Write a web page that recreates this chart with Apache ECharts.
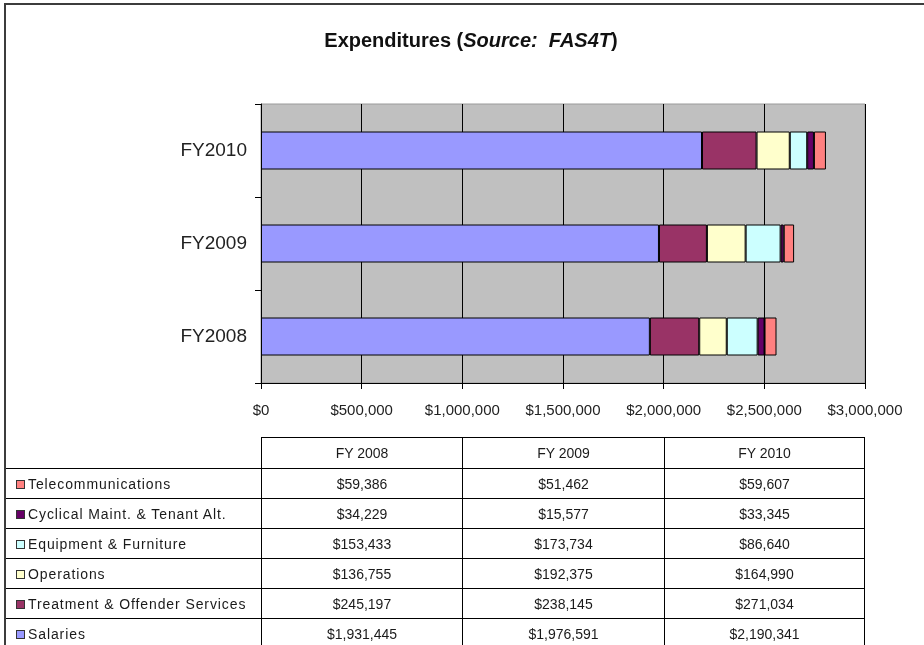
<!DOCTYPE html>
<html>
<head>
<meta charset="utf-8">
<script src="https://cdn.jsdelivr.net/npm/echarts@6/dist/echarts.min.js"></script>
<style>
  html, body { margin: 0; padding: 0; background: #fff; overflow: hidden; }
  #wrap { position: relative; width: 924px; height: 645px; overflow: hidden; }
  #chart { position: absolute; left: 0; top: 0; width: 924px; height: 645px; }
  #frame {
    position: absolute; left: 4px; top: 3px; width: 960px; height: 700px;
    border-top: 2px solid #3c3c3c; border-left: 2px solid #3c3c3c; pointer-events: none;
  }
  #dataTable {
    position: absolute; left: 5px; top: 437px;
    border-collapse: collapse; table-layout: fixed;
    font-family: 'Liberation Sans', Arial, sans-serif; font-size: 14px; color: #1a1a1a;
  }
  #dataTable td { border: 1px solid #000; padding: 0; text-align: center; white-space: nowrap; }
  #dataTable tr.head td { height: 30px; }
  #dataTable tr.body td { height: 29px; }
  #dataTable td.blank { border-top: none; border-left: none; }
  #dataTable td.name { text-align: left; padding-left: 10px; letter-spacing: 0.9px; }
  .key {
    display: inline-block; width: 7px; height: 7px; border: 1px solid #333;
    margin-right: 3px; vertical-align: 0px;
  }
</style>
</head>
<body>
<div id="wrap">
  <div id="chart"></div>
  <table id="dataTable"></table>
  <div id="frame"></div>
</div>
<script>
// categories (bottom to top on the chart)
const years = ['FY2008', 'FY2009', 'FY2010']
const tableYears = ['FY 2008', 'FY 2009', 'FY 2010']

// series values, stacked left to right
const salaries = [1931445, 1976591, 2190341]
const treatment = [245197, 238145, 271034]
const operations = [136755, 192375, 164990]
const equipment = [153433, 173734, 86640]
const cyclical = [34229, 15577, 33345]
const telecom = [59386, 51462, 59607]

const seriesNames = [
  'Salaries',
  'Treatment & Offender Services',
  'Operations',
  'Equipment & Furniture',
  'Cyclical Maint. & Tenant Alt.',
  'Telecommunications'
]
const seriesValues = [salaries, treatment, operations, equipment, cyclical, telecom]
const seriesColors = ['#9999ff', '#993366', '#ffffcc', '#ccffff', '#660066', '#ff8080']

const xTickStep = 500000
const xMax = 3000000

const money = v => '$' + v.toLocaleString('en-US')

const chart = echarts.init(document.getElementById('chart'))

chart.setOption({
  animation: false,
  textStyle: { fontFamily: "'Liberation Sans', Arial, sans-serif" },
  graphic: [{
    type: 'text',
    x: 471,
    y: 41,
    style: {
      text: '{b|Expenditures (}{i|Source:  FAS4T}{b|)}',
      align: 'center',
      verticalAlign: 'middle',
      rich: {
        b: { fontSize: 20, fontWeight: 'bold', fill: '#111', fontFamily: "'Liberation Sans', Arial, sans-serif" },
        i: { fontSize: 20, fontWeight: 'bold', fontStyle: 'italic', fill: '#111', fontFamily: "'Liberation Sans', Arial, sans-serif" }
      }
    }
  }],
  grid: {
    left: 261,
    right: 59,
    top: 104,
    bottom: 262,
    show: true,
    backgroundColor: '#c0c0c0',
    borderColor: '#9a9a9a',
    borderWidth: 1
  },
  xAxis: {
    type: 'value',
    min: 0,
    max: xMax,
    interval: xTickStep,
    axisLine: { show: true, lineStyle: { color: '#000', width: 1 } },
    axisTick: { show: true, length: 6, lineStyle: { color: '#000' } },
    axisLabel: { color: '#222', fontSize: 15, margin: 20, formatter: v => money(v) },
    splitLine: { show: true, lineStyle: { color: '#000', width: 1 } }
  },
  yAxis: {
    type: 'category',
    data: years,
    axisLine: { show: true, lineStyle: { color: '#000', width: 1 } },
    axisTick: { show: true, length: 6, lineStyle: { color: '#000' } },
    axisLabel: { color: '#222', fontSize: 19, margin: 14, padding: [4, 0, 0, 0] },
    splitLine: { show: false }
  },
  series: seriesNames.map((name, i) => ({
    name,
    type: 'bar',
    stack: 'total',
    barWidth: 38,
    data: seriesValues[i],
    itemStyle: { color: seriesColors[i], borderColor: '#000', borderWidth: 1 }
  }))
})

// data table below the chart, top row = last series
const table = document.getElementById('dataTable')
const colWidths = [256, 201, 202, 200]
let html = '<colgroup>' + colWidths.map(w => `<col style="width:${w}px">`).join('') + '</colgroup>'
html += '<tr class="head"><td class="blank"></td>' + tableYears.map(y => `<td>${y}</td>`).join('') + '</tr>'
for (let i = seriesNames.length - 1; i >= 0; i--) {
  html += '<tr class="body"><td class="name">' +
    `<span class="key" style="background:${seriesColors[i]}"></span>` +
    seriesNames[i].replace(/&/g, '&amp;') + '</td>' +
    seriesValues[i].map(v => `<td>${money(v)}</td>`).join('') + '</tr>'
}
table.innerHTML = html
</script>
</body>
</html>
